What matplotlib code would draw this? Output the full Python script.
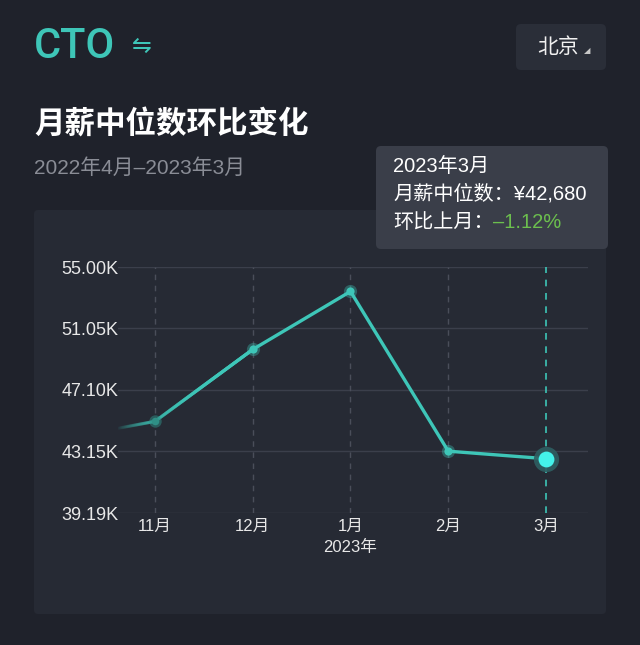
import numpy as np
import matplotlib.pyplot as plt
from matplotlib.patches import FancyBboxPatch
from matplotlib.collections import LineCollection

plt.rcParams['font.family'] = ['Noto Sans CJK SC', 'DejaVu Sans']
mix = ['Liberation Sans', 'Noto Sans CJK SC', 'DejaVu Sans']

# Dados (yuan)
months = ['10月', '11月', '12月', '1月', '2月', '3月']
values = [43900, 45080, 49700, 53430, 43163, 42680]
yticks = [39190, 43150, 47100, 51050, 55000]
ytick_labels = ['39.19K', '43.15K', '47.10K', '51.05K', '55.00K']

bg = '#1f222b'
card = '#262a34'
teal = '#3ec6b8'
W, H = 640, 645

fig = plt.figure(figsize=(W / 100, H / 100), dpi=100, facecolor=bg)


def fx(x):
    return x / W


def fy(y):
    return 1 - y / H


def box(x0, y0, x1, y1, color, r=6):
    p = FancyBboxPatch((fx(x0), fy(y1)), fx(x1 - x0), (y1 - y0) / H,
                       boxstyle=f'round,pad=0,rounding_size={r / W}',
                       transform=fig.transFigure, facecolor=color, edgecolor='none',
                       zorder=-1)
    fig.patches.append(p)


# Cabeçalho
fig.text(fx(34), fy(46), 'CTO', color=teal, fontsize=30, va='center', ha='left',
         family='Roboto', fontweight='medium')
fig.text(fx(132), fy(46), '⇋', color=teal, fontsize=17, va='center', ha='left',
         family='DejaVu Sans')
box(516, 24, 606, 70, '#2a2e38', r=5)
fig.text(fx(537), fy(47), '北京', color='#f0f0f0', fontsize=15, va='center', ha='left')
fig.text(fx(584), fy(51), '◢', color='#c8c8c8', fontsize=6, va='center', ha='left',
         family='DejaVu Sans')

fig.text(fx(34), fy(125), '月薪中位数环比变化', color='white', fontsize=22,
         fontweight='bold', va='center', ha='left')
fig.text(fx(34), fy(168), '2022年4月–2023年3月', color='#8a8d96', fontsize=15,
         va='center', ha='left', family=mix)

# Cartão do gráfico
box(34, 210, 606, 614, card, r=4)

# Eixos
ax = fig.add_axes([fx(118), fy(513), fx(588 - 118), (513 - 267) / H])
ax.set_zorder(2)
ax.set_facecolor('none')
x = np.arange(len(months))
ax.set_xlim(1 - 37 / 97.75, 5 + 42 / 97.75)
ax.set_ylim(yticks[0], yticks[-1])
for s in ax.spines.values():
    s.set_visible(False)

for yv in yticks:
    ax.axhline(yv, color='#3b3f4b', lw=1, zorder=1)
for xi in x[1:-1]:
    ax.axvline(xi, color='#4a4e5a', lw=1, dashes=(4, 4), zorder=1)
ax.axvline(x[-1], color=teal, lw=1.2, dashes=(4, 4), zorder=1)

# Linha com gradiente à esquerda
xs = np.linspace(x[0], x[2], 200)
ys = np.interp(xs, x, values)
pts = np.column_stack([xs, ys]).reshape(-1, 1, 2)
segs = np.concatenate([pts[:-1], pts[1:]], axis=1)
alpha = np.clip((xs[:-1] - 0.6) / 1.0, 0, 1)
cols = [(0.243, 0.776, 0.722, a) for a in alpha]
ax.add_collection(LineCollection(segs, colors=cols, linewidths=2.4, zorder=3,
                                 capstyle='round'))
ax.plot(x[2:], values[2:], color=teal, lw=2.4, zorder=3, solid_capstyle='round')

# Marcadores
ax.scatter(x[1], values[1], s=80, color='#2f8f86', alpha=0.5, zorder=4, lw=0)
ax.scatter(x[1], values[1], s=30, color='#2f8f86', zorder=5, lw=0)
ax.scatter(x[2:5], values[2:5], s=90, color=teal, alpha=0.35, zorder=4, lw=0)
ax.scatter(x[2:5], values[2:5], s=35, color=teal, zorder=5, lw=0)
ax.scatter(x[5], values[5], s=330, color='#2e5f62', alpha=0.9, zorder=4, lw=0)
ax.scatter(x[5], values[5], s=130, color='#44f2ea', zorder=5, lw=0)

ax.set_yticks(yticks)
ax.set_yticklabels(ytick_labels, color='#e8e8e8', fontsize=13, family='Liberation Sans')
ax.set_xticks(x[1:])
ax.set_xticklabels(months[1:], color='#e8e8e8', fontsize=12, family=mix)
ax.tick_params(length=0, pad=4)
ax.tick_params(axis='y', pad=0)
ax.text(x[3], -0.14, '2023年', transform=ax.get_xaxis_transform(), color='#e8e8e8',
        fontsize=12, ha='center', va='center', family=mix)

# Tooltip
box(376, 146, 608, 249, '#3a3e49', r=5)
fig.text(fx(393), fy(166), '2023年3月', color='white', fontsize=14.5, va='center', family=mix)
fig.text(fx(393), fy(194), '月薪中位数：¥42,680', color='white', fontsize=14.5,
         va='center', family=mix)
fig.text(fx(393), fy(222), '环比上月：', color='white', fontsize=14.5, va='center', family=mix)
fig.text(fx(493), fy(222), '–1.12%', color='#6cbf4e', fontsize=14.5, va='center', family=mix)

fig.savefig('out.png', dpi=100, facecolor=bg)
